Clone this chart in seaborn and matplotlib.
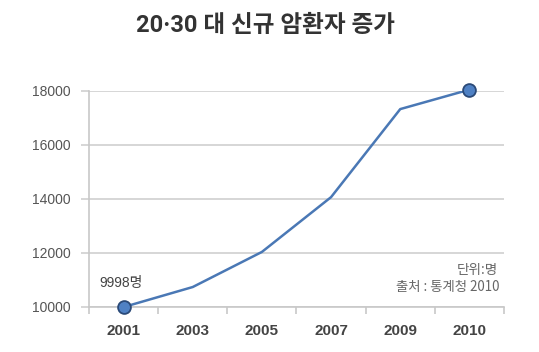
import matplotlib
matplotlib.use("Agg")
import matplotlib.pyplot as plt
import seaborn as sns
import numpy as np
import pandas as pd

years = ["2001", "2003", "2005", "2007", "2009", "2010"]
patients = [9998, 10740, 12040, 14070, 17330, 18050]
yticks = [10000, 12000, 14000, 16000, 18000]
title = "20·30 대 신규 암환자 증가"
first_label = "9998명"
last_label = "1만8050명"
unit_note = "단위:명"
source_note = "출처 : 통계청 2010"

sns.set_theme(style="white")
plt.rcParams['font.family'] = ['Noto Sans CJK KR', 'DejaVu Sans']
num_font = ['Liberation Sans', 'Noto Sans CJK KR']

df = pd.DataFrame({"pos": np.arange(len(years)), "year": years, "value": patients})

fig = plt.figure(figsize=(5.39, 3.52), dpi=100)
ax = fig.add_axes([89/539, 1-307/352, (504-89)/539, (307-91)/352])

line_color = "#4a78b5"
sns.lineplot(data=df, x="pos", y="value", ax=ax, color=line_color, linewidth=1.8)
ends = df.iloc[[0, -1]]
ax.scatter(ends["pos"], ends["value"], s=85, color="#4f81c4", edgecolor="#2b4a78",
           linewidth=1.3, zorder=5, clip_on=False)

ax.set_xlim(-0.5, len(years) - 0.5)
ax.set_ylim(10000, 18000)
ax.set_yticks(yticks)
ax.set_yticklabels([str(v) for v in yticks], fontsize=10, color="#555555", family=num_font)
ax.yaxis.grid(True, color="#d0d0d0", linewidth=1.2)
ax.set_axisbelow(True)
ax.tick_params(axis="y", length=6, color="#d0d0d0", width=1.2, pad=7, left=True)

ax.set_xticks(np.arange(len(years)))
ax.set_xticklabels(years, fontsize=11, color="#444444", fontweight="bold", family=num_font)
ax.set_xticks(np.arange(len(years) + 1) - 0.5, minor=True)
ax.tick_params(axis="x", which="major", length=0, pad=12)
ax.tick_params(axis="x", which="minor", length=5, color="#c8c8c8", width=1.2, bottom=True)

for s in ["top", "right"]:
    ax.spines[s].set_visible(False)
for s in ["left", "bottom"]:
    ax.spines[s].set_color("#c8c8c8")
    ax.spines[s].set_linewidth(1.2)
ax.set_xlabel("")
ax.set_ylabel("")

ax.annotate(first_label, (0, patients[0]), xytext=(-2, 17), textcoords="offset points",
            ha="center", va="center", fontsize=10, color="#444444", family=num_font)
ax.annotate(last_label, (len(years) - 1, patients[-1]), xytext=(-16, 16), textcoords="offset points",
            ha="center", va="center", fontsize=10, color="#555555", family=num_font)

fig.text(498/539, 1-270/352, unit_note, ha="right", va="center", fontsize=9.8,
         color="#666666", fontweight="light")
fig.text(500/539, 1-287/352, source_note, ha="right", va="center", fontsize=9.6,
         color="#666666", fontweight="light")

fig.text(265/539, 1-26/352, title, ha="center", va="center", fontsize=17,
         color="#333333", fontweight="bold", family=['Roboto', 'Noto Sans CJK KR'])

fig.savefig("out.png", dpi=100, facecolor="white")
